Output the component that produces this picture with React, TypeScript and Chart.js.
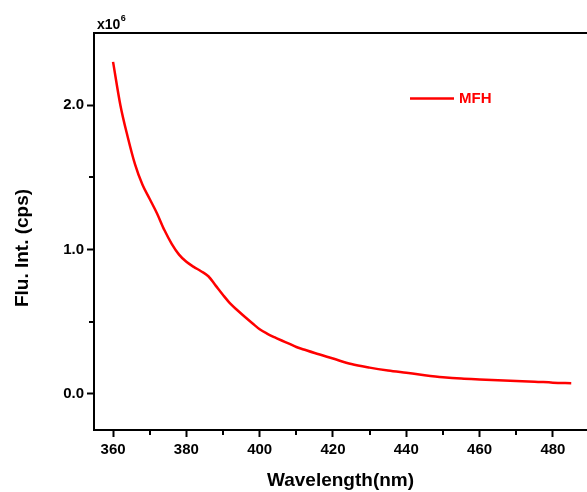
import React, { useEffect, useRef } from "react";
import { Chart, registerables } from "chart.js";

Chart.register(...registerables);

const wavelengths = [360, 362, 364, 366, 368, 370, 372, 374, 376, 378, 380, 382, 384, 386, 388, 390, 392, 394, 396, 398, 400, 402, 404, 406, 408, 410, 412, 415, 420, 425, 430, 435, 440, 445, 450, 455, 460, 465, 470, 475, 480, 485];
const intensities = [2.30, 2.0, 1.78, 1.59, 1.45, 1.35, 1.25, 1.135, 1.04, 0.965, 0.915, 0.88, 0.85, 0.815, 0.75, 0.685, 0.625, 0.578, 0.533, 0.49, 0.448, 0.418, 0.393, 0.37, 0.348, 0.325, 0.308, 0.283, 0.245, 0.207, 0.182, 0.162, 0.146, 0.13, 0.116, 0.106, 0.10, 0.095, 0.09, 0.085, 0.078, 0.074];
const xMajorTicks = [360, 380, 400, 420, 440, 460, 480];
const xMinorTicks = [370, 390, 410, 430, 450, 470];
const yMajorTicks = [0, 1, 2];
const yMinorTicks = [0.5, 1.5];
const seriesLabel = "MFH";
const xTitle = "Wavelength(nm)";
const yTitle = "Flu. Int. (cps)";

const FONT = '"Liberation Sans", Arial, sans-serif';

const decorPlugin = {
  id: "decor",
  afterDraw(chart: any) {
    const ctx = chart.ctx;
    const area = chart.chartArea;
    const xs = chart.scales.x;
    const ys = chart.scales.y;
    ctx.save();
    ctx.strokeStyle = "#000";
    ctx.lineWidth = 2;
    // top border
    ctx.beginPath();
    ctx.moveTo(area.left - 1, area.top);
    ctx.lineTo(area.right, area.top);
    ctx.stroke();
    // minor ticks
    ctx.beginPath();
    xMinorTicks.forEach((v) => {
      const px = Math.round(xs.getPixelForValue(v));
      ctx.moveTo(px, area.bottom);
      ctx.lineTo(px, area.bottom + 5);
    });
    yMinorTicks.forEach((v) => {
      const py = Math.round(ys.getPixelForValue(v));
      ctx.moveTo(area.left, py);
      ctx.lineTo(area.left - 5, py);
    });
    ctx.stroke();
    // y title
    ctx.fillStyle = "#000";
    ctx.font = `bold 19px ${FONT}`;
    ctx.textAlign = "center";
    ctx.textBaseline = "middle";
    ctx.translate(23, 248);
    ctx.rotate(-Math.PI / 2);
    ctx.fillText(yTitle, 0, 0);
    ctx.restore();

    // x10^6 multiplier
    ctx.save();
    ctx.fillStyle = "#000";
    ctx.textAlign = "left";
    ctx.textBaseline = "alphabetic";
    ctx.font = `bold 14px ${FONT}`;
    ctx.fillText("x10", 97, 29);
    const w = ctx.measureText("x10").width;
    ctx.font = `bold 9px ${FONT}`;
    ctx.fillText("6", 97 + w + 0.5, 21);
    ctx.restore();

    // legend
    const ds = chart.data.datasets[0];
    ctx.save();
    ctx.strokeStyle = ds.borderColor;
    ctx.lineWidth = 2.5;
    ctx.beginPath();
    ctx.moveTo(410, 98.5);
    ctx.lineTo(454, 98.5);
    ctx.stroke();
    ctx.fillStyle = ds.borderColor;
    ctx.font = `bold 15px ${FONT}`;
    ctx.textAlign = "left";
    ctx.textBaseline = "middle";
    ctx.fillText(ds.label, 459, 99);
    ctx.restore();
  },
};

export default function App() {
  const ref = useRef<HTMLCanvasElement>(null);
  useEffect(() => {
    if (!ref.current) return;
    const chart = new Chart(ref.current, {
      type: "line",
      data: {
        datasets: [
          {
            label: seriesLabel,
            data: wavelengths.map((x, i) => ({ x, y: intensities[i] })),
            borderColor: "#ff0000",
            borderWidth: 2.5,
            pointRadius: 0,
            cubicInterpolationMode: "monotone",
            fill: false,
          },
        ],
      },
      options: {
        responsive: false,
        animation: false,
        devicePixelRatio: 1,
        layout: { padding: { top: 33, right: 0, left: 0, bottom: 0 } },
        plugins: { legend: { display: false }, tooltip: { enabled: false } },
        scales: {
          x: {
            type: "linear",
            min: 354.8,
            max: 489.3,
            afterBuildTicks: (s: any) => {
              s.ticks = xMajorTicks.map((v) => ({ value: v }));
            },
            afterFit: (s: any) => {
              s.height = 62;
            },
            grid: { drawOnChartArea: false, drawTicks: true, tickLength: 7, tickWidth: 2, tickColor: "#000" },
            border: { display: true, color: "#000", width: 2 },
            ticks: {
              color: "#000",
              font: { family: FONT, size: 15, weight: "bold" },
              padding: 4,
              maxRotation: 0,
              autoSkip: false,
              callback: (v: any) => String(v),
            },
            title: {
              display: true,
              text: xTitle,
              color: "#000",
              font: { family: FONT, size: 19, weight: "bold" },
              padding: { top: 4, bottom: 0 },
            },
          },
          y: {
            type: "linear",
            min: -0.25,
            max: 2.5,
            afterBuildTicks: (s: any) => {
              s.ticks = yMajorTicks.map((v) => ({ value: v }));
            },
            afterFit: (s: any) => {
              s.width = 94;
            },
            grid: { drawOnChartArea: false, drawTicks: true, tickLength: 7, tickWidth: 2, tickColor: "#000" },
            border: { display: true, color: "#000", width: 2 },
            ticks: {
              color: "#000",
              font: { family: FONT, size: 15, weight: "bold" },
              padding: 3,
              autoSkip: false,
              callback: (v: any) => Number(v).toFixed(1),
            },
            title: { display: false },
          },
        },
      } as any,
      plugins: [decorPlugin],
    });
    return () => chart.destroy();
  }, []);
  return (
    <div style={{ position: "fixed", left: 0, top: 0, width: 587, height: 492, background: "#fff" }}>
      <canvas ref={ref} width={587} height={492} style={{ display: "block", width: 587, height: 492 }} />
    </div>
  );
}
